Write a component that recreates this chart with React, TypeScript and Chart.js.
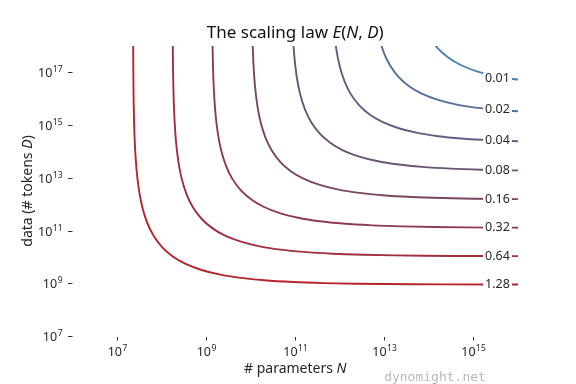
import React, { useEffect, useRef } from "react";
import { Chart, registerables } from "chart.js";

Chart.register(...registerables);

// Contour levels of the reducible loss, from the lowest (blue) to the highest (red)
const LEVELS = ["0.01", "0.02", "0.04", "0.08", "0.16", "0.32", "0.64", "1.28"];
const COLORS = ["#4a82b0", "#546f98", "#5e6083", "#6a5474", "#7a4763", "#8c3b53", "#a0303f", "#b5252d"];

// Contour points, as log10(N) and log10(D)
const N_001 = [14.0113, 14.2082, 14.4411, 14.7261, 15.0936, 15.4898, 15.979, 16.4969];
const D_001 = [18.3443, 17.8981, 17.552, 17.2692, 17.0301, 16.8623, 16.729, 16.6403];

const N_002 = [12.8779, 12.9877, 13.1259, 13.3228, 13.5557, 13.8407, 14.2082, 14.6044, 15.0936, 15.6115, 16.264];
const D_002 = [18.3442, 17.7502, 17.2691, 16.8229, 16.4768, 16.194, 15.9549, 15.7871, 15.6538, 15.5651, 15.4977];

const N_004 = [11.8639, 11.9195, 11.9925, 12.1023, 12.2405, 12.4374, 12.6703, 12.9553, 13.3228, 13.719, 14.2082, 14.7261, 15.3786, 16.067];
const D_004 = [18.6902, 17.898, 17.2691, 16.6751, 16.194, 15.7478, 15.4017, 15.1189, 14.8798, 14.712, 14.5787, 14.49, 14.4226, 14.3819];

const N_008 = [10.945, 10.9785, 11.0341, 11.1071, 11.2169, 11.3551, 11.552, 11.7849, 12.0699, 12.4374, 12.8336, 13.3228, 13.8407, 14.4932, 15.1816, 15.8965, 16.549];
const D_008 = [18.4513, 17.6151, 16.8229, 16.194, 15.6, 15.1189, 14.6727, 14.3266, 14.0438, 13.8047, 13.6369, 13.5036, 13.4149, 13.3475, 13.3068, 13.2828, 13.2702];

const N_016 = [10.04, 10.0597, 10.0932, 10.1488, 10.2218, 10.3316, 10.4698, 10.6667, 10.8996, 11.1846, 11.5521, 11.9483, 12.4375, 12.9554, 13.6079, 14.2963, 15.0112, 15.6637, 16.3521];
const D_016 = [18.2442, 17.3762, 16.54, 15.7478, 15.1189, 14.5249, 14.0438, 13.5976, 13.2515, 12.9687, 12.7296, 12.5618, 12.4285, 12.3398, 12.2724, 12.2317, 12.2077, 12.1951, 12.1873];

const N_032 = [9.1378, 9.1442, 9.1546, 9.1743, 9.2078, 9.2634, 9.3364, 9.4462, 9.5844, 9.7813, 10.0142, 10.2992, 10.6667, 11.0629, 11.5521, 12.07, 12.7225, 13.4109, 14.1258, 14.7783, 15.4667, 16.1816];
const D_032 = [18.7974, 17.9614, 17.1691, 16.3011, 15.4649, 14.6727, 14.0438, 13.4498, 12.9687, 12.5225, 12.1764, 11.8936, 11.6545, 11.4867, 11.3534, 11.2647, 11.1973, 11.1566, 11.1326, 11.12, 11.1122, 11.1075];

const N_064 = [8.2485, 8.2524, 8.2588, 8.2692, 8.2889, 8.3224, 8.378, 8.451, 8.5608, 8.699, 8.8959, 9.1288, 9.4138, 9.7813, 10.1775, 10.6667, 11.1846, 11.8371, 12.5255, 13.2404, 13.8929, 14.5813, 15.2962, 16.1816];
const D_064 = [18.5903, 17.7223, 16.8863, 16.094, 15.226, 14.3898, 13.5976, 12.9687, 12.3747, 11.8936, 11.4474, 11.1013, 10.8185, 10.5794, 10.4116, 10.2783, 10.1896, 10.1222, 10.0815, 10.0575, 10.0449, 10.0371, 10.0324, 10.0293];

const N_128 = [7.3607, 7.3632, 7.3671, 7.3735, 7.3839, 7.4036, 7.4371, 7.4927, 7.5657, 7.6755, 7.8137, 8.0106, 8.2435, 8.5285, 8.896, 9.2922, 9.7814, 10.2993, 10.9518, 11.6402, 12.3551, 13.0076, 13.696, 14.4109, 15.2963, 16.1816];
const D_128 = [18.5903, 17.5152, 16.6472, 15.8112, 15.0189, 14.1509, 13.3147, 12.5225, 11.8936, 11.2996, 10.8185, 10.3723, 10.0262, 9.7434, 9.5043, 9.3365, 9.2032, 9.1145, 9.0471, 9.0064, 8.9824, 8.9698, 8.962, 8.9573, 8.9542, 8.9527];

const CURVES_N = [N_001, N_002, N_004, N_008, N_016, N_032, N_064, N_128];
const CURVES_D = [D_001, D_002, D_004, D_008, D_016, D_032, D_064, D_128];

// Inline label positions (log10 N, log10 D)
const LABEL_N = [15.54, 15.54, 15.54, 15.54, 15.54, 15.54, 15.54, 15.54];
const LABEL_D = [16.77, 15.58, 14.41, 13.29, 12.19, 11.11, 10.03, 8.95];

// Axis ranges and tick exponents
const X_MIN_EXP = 6;
const X_MAX_EXP = 16;
const Y_MIN_EXP = 7;
const Y_MAX_EXP = 18;
const X_TICK_EXPS = [7, 9, 11, 13, 15];
const Y_TICK_EXPS = [7, 9, 11, 13, 15, 17];

const FONT = "'Noto Sans', 'DejaVu Sans', sans-serif";
const TEXT = "#262626";

type Piece = { t: string; it?: boolean };

function drawPieces(ctx: CanvasRenderingContext2D, pieces: Piece[], size: number, cx: number, baseline: number) {
  const widths = pieces.map((p) => {
    ctx.font = `${p.it ? "italic " : ""}${size}px ${FONT}`;
    return ctx.measureText(p.t).width;
  });
  const total = widths.reduce((a, b) => a + b, 0);
  let x = cx - total / 2;
  ctx.textAlign = "left";
  ctx.textBaseline = "alphabetic";
  pieces.forEach((p, i) => {
    ctx.font = `${p.it ? "italic " : ""}${size}px ${FONT}`;
    ctx.fillText(p.t, x, baseline);
    x += widths[i];
  });
}

function powerLabel(ctx: CanvasRenderingContext2D, exp: number, anchorX: number, baseline: number, align: "center" | "right") {
  const base = "10";
  const sup = String(exp);
  ctx.font = `12.5px ${FONT}`;
  const w1 = ctx.measureText(base).width;
  ctx.font = `8.5px ${FONT}`;
  const w2 = ctx.measureText(sup).width;
  const total = w1 + w2 + 0.5;
  const x0 = align === "center" ? anchorX - total / 2 : anchorX - total;
  ctx.textAlign = "left";
  ctx.textBaseline = "alphabetic";
  ctx.font = `12.5px ${FONT}`;
  ctx.fillText(base, x0, baseline);
  ctx.font = `8.5px ${FONT}`;
  ctx.fillText(sup, x0 + w1 + 0.5, baseline - 5);
}

const decorPlugin = {
  id: "decor",
  afterDatasetsDraw(chart: any) {
    const ctx: CanvasRenderingContext2D = chart.ctx;
    const xs = chart.scales.x;
    const ys = chart.scales.y;
    ctx.save();
    // inline contour labels
    LEVELS.forEach((lab, i) => {
      const px = xs.getPixelForValue(Math.pow(10, LABEL_N[i]));
      const py = ys.getPixelForValue(Math.pow(10, LABEL_D[i]));
      ctx.font = `12.5px ${FONT}`;
      const w = ctx.measureText(lab).width;
      ctx.fillStyle = "#ffffff";
      ctx.fillRect(px - w / 2 - 2, py - 6, w + 4, 12);
      ctx.fillStyle = TEXT;
      ctx.textAlign = "center";
      ctx.textBaseline = "middle";
      ctx.fillText(lab, px, py);
    });
    ctx.restore();
  },
  afterDraw(chart: any) {
    const ctx: CanvasRenderingContext2D = chart.ctx;
    const xs = chart.scales.x;
    const ys = chart.scales.y;
    const area = chart.chartArea;
    ctx.save();
    ctx.strokeStyle = "#333333";
    ctx.lineWidth = 1;
    ctx.fillStyle = TEXT;
    // y ticks
    Y_TICK_EXPS.forEach((e) => {
      const py = Math.round(ys.getPixelForValue(Math.pow(10, e))) + 0.5;
      ctx.beginPath();
      ctx.moveTo(area.left - 4.5, py);
      ctx.lineTo(area.left, py);
      ctx.stroke();
      powerLabel(ctx, e, area.left - 10, py + 4.5, "right");
    });
    // x ticks
    X_TICK_EXPS.forEach((e) => {
      const px = Math.round(xs.getPixelForValue(Math.pow(10, e))) + 0.5;
      ctx.beginPath();
      ctx.moveTo(px, area.bottom + 1);
      ctx.lineTo(px, area.bottom + 4.5);
      ctx.stroke();
      powerLabel(ctx, e, px, area.bottom + 20, "center");
    });
    // title
    ctx.fillStyle = "#111111";
    drawPieces(
      ctx,
      [{ t: "The scaling law " }, { t: "E", it: true }, { t: "(" }, { t: "N", it: true }, { t: ", " }, { t: "D", it: true }, { t: ")" }],
      17,
      (area.left + area.right) / 2,
      38
    );
    // x label
    ctx.fillStyle = TEXT;
    drawPieces(ctx, [{ t: "# parameters " }, { t: "N", it: true }], 14, (area.left + area.right) / 2, 373);
    // y label
    ctx.save();
    ctx.translate(27, (area.top + area.bottom) / 2);
    ctx.rotate(-Math.PI / 2);
    drawPieces(ctx, [{ t: "data (# tokens " }, { t: "D", it: true }, { t: ")" }], 14, 0, 4.5);
    ctx.restore();
    // watermark
    ctx.fillStyle = "#b8b8b8";
    ctx.font = `13px 'DejaVu Sans Mono', monospace`;
    ctx.textAlign = "center";
    ctx.textBaseline = "alphabetic";
    ctx.fillText("dynomight.net", 435, 381);
    ctx.restore();
  },
};

export default function App() {
  const ref = useRef<HTMLCanvasElement | null>(null);
  useEffect(() => {
    if (!ref.current) return;
    const datasets = CURVES_N.map((ns, k) => ({
      label: LEVELS[k],
      data: ns.map((n, i) => ({ x: Math.pow(10, n), y: Math.pow(10, CURVES_D[k][i]) })),
      borderColor: COLORS[k],
      backgroundColor: COLORS[k],
      borderWidth: 1.9,
      pointRadius: 0,
      fill: false,
      cubicInterpolationMode: "monotone" as const,
    }));
    const chart = new Chart(ref.current, {
      type: "line",
      data: { datasets },
      options: {
        animation: false,
        responsive: false,
        events: [],
        layout: { padding: { top: 46, right: 58, left: 0, bottom: 0 } },
        plugins: { legend: { display: false }, title: { display: false }, tooltip: { enabled: false } },
        scales: {
          x: {
            type: "logarithmic",
            min: Math.pow(10, X_MIN_EXP),
            max: Math.pow(10, X_MAX_EXP),
            grid: { display: false },
            border: { display: false },
            ticks: { display: false },
            afterFit: (s: any) => {
              s.height = 48;
            },
          },
          y: {
            type: "logarithmic",
            min: Math.pow(10, Y_MIN_EXP),
            max: Math.pow(10, Y_MAX_EXP),
            grid: { display: false },
            border: { display: false },
            ticks: { display: false },
            afterFit: (s: any) => {
              s.width = 72.5;
            },
          },
        },
      },
      plugins: [decorPlugin],
    });
    return () => chart.destroy();
  }, []);
  return (
    <div style={{ position: "fixed", left: 0, top: 0, width: 576, height: 384, background: "#fff" }}>
      <canvas ref={ref} width={576} height={384} style={{ width: 576, height: 384, display: "block" }} />
    </div>
  );
}
